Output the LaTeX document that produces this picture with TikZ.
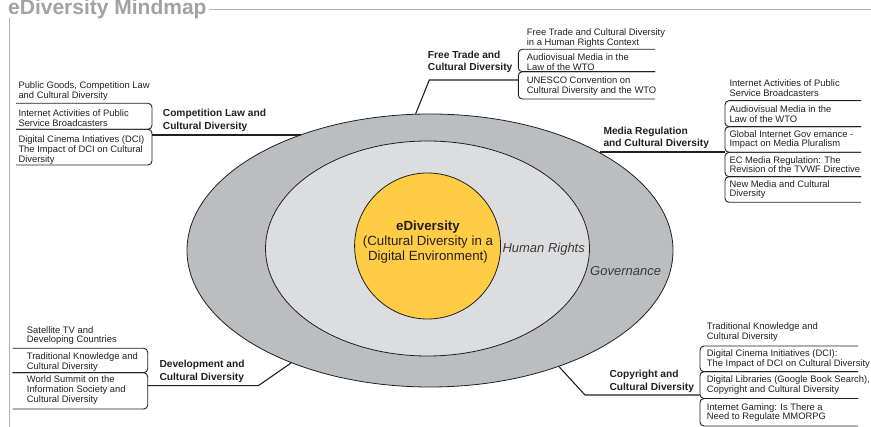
\documentclass[tikz,border=0pt]{standalone}
\usepackage{fontspec}
\setmainfont{Liberation Sans}
\usetikzlibrary{shapes.geometric}
\definecolor{outerg}{RGB}{187,189,191}
\definecolor{midg}{RGB}{220,221,223}
\definecolor{yel}{RGB}{255,205,69}
\definecolor{ttl}{RGB}{160,162,165}
\definecolor{txt}{RGB}{35,31,32}
\begin{document}
\begin{tikzpicture}[x=1pt,y=-1pt,
  item/.style={font=\fontsize{9.4}{9.8}\selectfont, align=left, anchor=west, inner sep=0pt, text=txt},
  head/.style={font=\bfseries\fontsize{10.2}{12.5}\selectfont, align=left, anchor=west, inner sep=0pt, text=txt},
  frm/.style={draw=txt, line width=0.9pt, rounded corners=4pt},
  conn/.style={draw=txt, line width=1.1pt},
  thickconn/.style={draw=txt, line width=2pt},
  rulel/.style={draw=ttl!85, line width=1pt}]
\useasboundingbox (0,0) rectangle (871,427);

% title and frame rules
\node[anchor=base west, inner sep=0pt, font=\bfseries\fontsize{21}{24}\selectfont, text=ttl] (title) at (8,15) {eDiversity Mindmap};
\coordinate (rend) at (871,10);
\draw[rulel] ([xshift=2pt]title.east |- rend) -- (rend);
\coordinate (vtop) at (9,18);
\coordinate (vbot) at (9,427);
\draw[rulel] (vtop) -- (vbot);

% ellipses
\node[ellipse, draw=txt, line width=0.8pt, fill=outerg, minimum width=486pt, minimum height=273pt, inner sep=0pt] (gov) at (430,250.5) {};
\node[ellipse, draw=txt, line width=0.8pt, fill=midg, minimum width=324pt, minimum height=215pt, inner sep=0pt] (hr) at (427.5,248.5) {};
\node[circle, draw=txt, line width=0.8pt, fill=yel, minimum size=146pt, inner sep=0pt] (core) at (427.6,246) {};
\node[font=\fontsize{13.3}{15}\selectfont, align=center, text=txt, inner sep=0pt] (coretxt) at (428,242) {\textbf{eDiversity}\\(Cultural Diversity in a\\Digital Environment)};
\node[font=\itshape\fontsize{13}{15}\selectfont, anchor=west, inner sep=0pt, text=txt!88] (hrt) at (502.3,249) {Human Rights};
\node[font=\itshape\fontsize{13}{15}\selectfont, anchor=west, inner sep=0pt, text=txt!88] (govt) at (590,271) {Governance};

% Competition Law
\node[item] (c1) at (18.3,91.3) {Public Goods, Competition Law\\and Cultural Diversity};
\draw[frm] (16,103.3) -- (152,103.3) -- (152,129.3) -- (16,129.3);
\node[item] (c2) at (18.3,117.8) {Internet Activities of Public\\Service Broadcasters};
\draw[frm] (16,129.3) -- (152,129.3) -- (152,165) -- (16,165);
\node[item] (c3) at (18.3,149.8) {Digital Cinema Intiatives (DCI)\\The Impact of DCI on Cultural\\Diversity};
\node[head] (ch) at (162.7,120.5) {Competition Law and\\Cultural Diversity};
\coordinate (cj) at (152,135);
\draw[thickconn] (cj) -- (gov.138.4 |- cj);

% Free Trade
\node[item] (f1) at (526.7,38) {Free Trade and Cultural Diversity\\in a Human Rights Context};
\draw[frm] (655,49.3) -- (518.3,49.3) -- (518.3,71.7) -- (655,71.7);
\node[item] (f2) at (526.7,62.2) {Audiovisual Media in the\\Law of the WTO};
\draw[frm] (655,71.7) -- (518.3,71.7) -- (518.3,99) -- (655,99);
\node[item] (f3) at (526.7,86.2) {UNESCO Convention on\\Cultural Diversity and the WTO};
\node[head] (fh) at (427.7,62) {Free Trade and\\Cultural Diversity};
\coordinate (fj) at (518.3,80);
\coordinate (fb) at (429.3,80);
\draw[conn] (gov.96.5) -- (fb) -- (fj);

% Media Regulation
\node[item] (m1) at (729.3,88.3) {Internet Activities of Public\\Service Broadcasters};
\draw[frm] (861,100.7) -- (725,100.7) -- (725,126.7) -- (861,126.7);
\node[item] (m2) at (729.3,114) {Audiovisual Media in the\\Law of the WTO};
\draw[frm] (861,126.7) -- (725,126.7) -- (725,152.3) -- (861,152.3);
\node[item] (m3) at (729.3,139.5) {Global Internet Gov ernance -\\Impact on Media Pluralism};
\draw[frm] (861,152.3) -- (725,152.3) -- (725,176.7) -- (861,176.7);
\node[item] (m4) at (729.3,164.7) {EC Media Regulation: The\\Revision of the TVWF Directive};
\draw[frm] (861,176.7) -- (725,176.7) -- (725,202.3) -- (861,202.3);
\node[item] (m5) at (729.3,189.5) {New Media and Cultural\\Diversity};
\node[head] (mh) at (603.3,138) {Media Regulation\\and Cultural Diversity};
\coordinate (mj) at (725,152.3);
\draw[thickconn] (gov.30.2 |- mj) -- (mj);

% Development
\node[item] (d1) at (26.7,335.5) {Satellite TV and\\Developing Countries};
\draw[frm] (12.7,348.3) -- (147.7,348.3) -- (147.7,372.7) -- (12.7,372.7);
\node[item] (d2) at (26.7,361.7) {Traditional Knowledge and\\Cultural Diversity};
\draw[frm] (12.7,372.7) -- (147.7,372.7) -- (147.7,409) -- (12.7,409);
\node[item] (d3) at (26.7,390) {World Summit on the\\Information Society and\\Cultural Diversity};
\node[head] (dh) at (159.3,371.2) {Development and\\Cultural Diversity};
\coordinate (dj) at (147.7,385.7);
\coordinate (db) at (258.3,385.7);
\draw[conn] (dj) -- (db) -- (gov.219.1);

% Copyright
\node[item] (p1) at (706.7,332.3) {Traditional Knowledge and\\Cultural Diversity};
\draw[frm] (858,346) -- (700,346) -- (700,371.7) -- (858,371.7);
\node[item] (p2) at (706.7,358.8) {Digital Cinema Initiatives (DCI):\\The Impact of DCI on Cultural Diversity};
\draw[frm] (858,371.7) -- (700,371.7) -- (700,398.5) -- (858,398.5);
\node[item] (p3) at (706.7,385) {Digital Libraries (Google Book Search),\\Copyright and Cultural Diversity};
\draw[frm] (858,398.5) -- (700,398.5) -- (700,426) -- (858,426);
\node[item] (p4) at (706.7,412.5) {Internet Gaming: Is There a\\Need to Regulate MMORPG};
\node[head] (ph) at (609.3,381.3) {Copyright and\\Cultural Diversity};
\coordinate (pj) at (700,395);
\coordinate (pb) at (585,395);
\draw[conn] (gov.318.3) -- (pb) -- (pj);
\end{tikzpicture}
\end{document}
